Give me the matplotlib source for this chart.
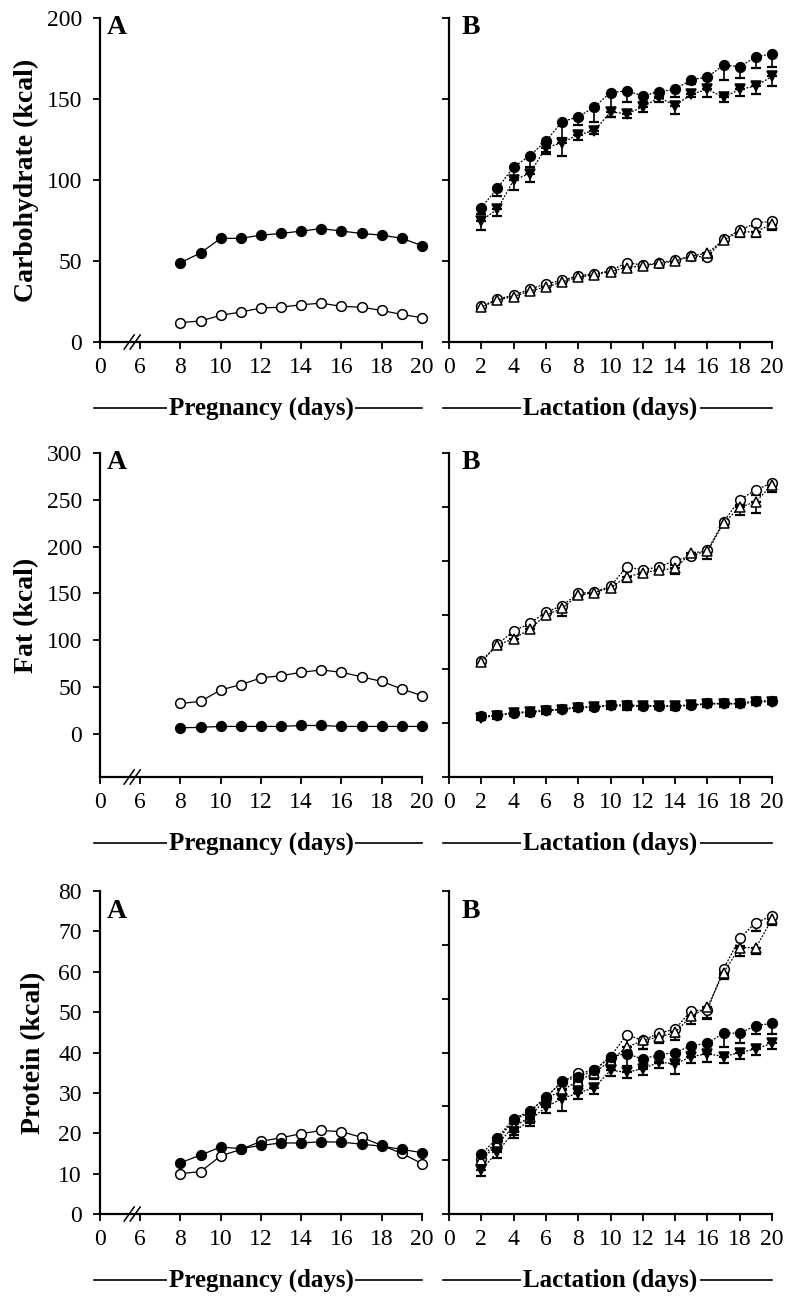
import numpy as np
import matplotlib.pyplot as plt

plt.rcParams['font.family'] = ['Liberation Serif', 'DejaVu Serif']

# 天数
preg_days = list(range(8, 21))
lact_days = list(range(2, 21))

# ---------- Carbohydrate ----------
carb_preg_filled = [49, 55, 64, 64, 66, 67, 68.5, 70, 68.5, 67, 66, 64, 59.5]
carb_preg_open = [12, 13, 16.5, 18.5, 21, 21.5, 23, 24, 22, 21.5, 19.5, 17, 15]

carb_lact_fc = [83, 95, 108, 115, 124, 136, 139, 145, 154, 155, 152, 154.5, 156, 162, 163.5, 171, 170, 176, 178]
carb_lact_fc_err = [4, 5, 6, 7, 7, 10, 5, 9, 15, 7, 4, 4, 5, 3, 5, 9, 7, 7, 8]
carb_lact_ft = [75, 82, 100, 104, 120, 123, 128, 130.5, 142, 141, 145, 151, 146, 153, 156, 151, 156, 158, 164]
carb_lact_ft_err = [6, 4, 6, 5, 4, 8, 3, 2, 3, 3, 3, 3, 5, 2, 5, 3, 4, 5, 6]
carb_lact_oc = [22, 26.5, 29, 32.5, 36, 38, 41, 42, 44, 49, 47.5, 48.7, 50.6, 53, 52.5, 63.5, 69, 73.5, 74.5]
carb_lact_oc_err = [1.5, 1.5, 2, 2, 2, 2, 2, 2, 2, 2, 2, 2, 2, 2, 2, 2, 2, 2, 2]
carb_lact_ot = [21.5, 26, 28, 31.5, 34, 37, 40, 41.5, 43.5, 46, 47, 48.5, 50, 53, 55, 63, 68, 68, 73]
carb_lact_ot_err = [1.5, 2, 2, 2, 2, 2, 2, 2, 2, 2, 2, 2, 2, 2, 3, 2, 3, 3, 4]

# ---------- Fat ----------
fat_preg_open = [32.5, 34.7, 47, 52.6, 59.8, 62.2, 65.8, 68.3, 65.8, 61, 56, 48, 40.8]
fat_preg_filled = [6.5, 7, 8, 8, 8, 8, 9, 9, 8, 8, 8, 8, 8]

fat_lact_oc = [78, 95.5, 110, 118, 130, 137, 150, 151.6, 157.7, 178.5, 175, 178.5, 185, 190, 196, 226.7, 250, 260.7, 268]
fat_lact_oc_err = [3, 3, 4, 3, 3, 3, 3, 3, 3, 5, 4, 4, 5, 3, 4, 4, 5, 6, 5]
fat_lact_ot = [77, 95, 101.6, 112, 127, 134, 148, 151, 156, 167.7, 172, 175, 176.7, 193.5, 195, 225, 242, 248, 266]
fat_lact_ot_err = [3, 4, 5, 4, 4, 8, 3, 3, 4, 5, 4, 4, 6, 3, 8, 4, 8, 12, 8]
fat_lact_fc = [18.6, 20.4, 22.8, 23.9, 25.3, 26.4, 29, 29, 31, 31, 30, 30, 30, 31, 32.5, 32.5, 32.5, 35.4, 35.4]
fat_lact_fc_err = [3, 3, 3, 3, 3, 3, 3, 3, 3, 3, 3, 3, 3, 3, 3, 3, 3, 3, 3]
fat_lact_ft = [17.5, 19.5, 22, 23, 24.5, 26, 28, 28.5, 30, 30, 29.5, 29.5, 29.5, 30.5, 32, 32, 32, 34, 34.5]
fat_lact_ft_err = [3, 4, 3, 4, 3, 3, 3, 3, 3, 4, 3, 3, 4, 3, 3, 3, 3, 3, 3]

# ---------- Protein ----------
prot_preg_filled = [12.7, 14.6, 16.6, 16.2, 17, 17.6, 17.6, 17.9, 17.8, 17.3, 16.8, 16, 15.2]
prot_preg_open = [10, 10.5, 14.4, 16, 18, 18.9, 19.9, 20.7, 20.4, 19, 17, 15, 12.5]

prot_lact_oc = [13.7, 18.3, 23.2, 25.3, 29, 32.7, 34.9, 35.6, 39, 44.4, 43, 44.8, 45.8, 50.4, 50.5, 60.7, 68.3, 72.2, 73.8]
prot_lact_oc_err = [1.5, 1.5, 2, 1.5, 1.5, 2, 1.5, 1.5, 1.5, 4, 2, 2, 2, 2, 2, 1.5, 2, 2, 1.5]
prot_lact_ot = [13.3, 17.4, 21.6, 24, 28.6, 30.6, 33, 35, 38, 41.3, 43, 43.8, 45, 49, 51.2, 59.8, 66, 66, 73]
prot_lact_ot_err = [1.5, 1.5, 2, 1.5, 1.5, 2, 1.5, 1.5, 1.5, 2, 2, 1.5, 2, 2, 3, 1.5, 2, 1.5, 1.5]
prot_lact_fc = [14.8, 18.9, 23.6, 25.5, 28.8, 32.9, 33.9, 35.6, 39, 39.7, 38.4, 39.5, 40, 41.7, 42.3, 44.8, 44.8, 46.7, 47.2]
prot_lact_fc_err = [1.5, 1.5, 2, 2, 1.5, 2, 1.5, 1.5, 2, 3, 2, 2, 2, 1.5, 2, 3.5, 2.5, 2, 2.6]
prot_lact_ft = [10.9, 15.4, 20.3, 23.2, 26.5, 28.6, 30, 31.3, 35.6, 35.1, 36, 37.6, 37.2, 39, 39.7, 39, 40, 40.9, 42.3]
prot_lact_ft_err = [1.5, 1.5, 1.5, 1.5, 1.5, 3, 1.5, 1.5, 1.5, 1.5, 1.5, 1.5, 2.5, 1.5, 2, 1.5, 1.5, 1.5, 1.5]

# 轴刻度
preg_tick_labels = ['0', '6', '8', '10', '12', '14', '16', '18', '20']
lact_ticks = list(range(0, 21, 2))

fig = plt.figure(figsize=(7.88, 12.98), dpi=100)

rows = [
    # (bottom, height, ylim, ticks A, ticks B, ylabel, label x)
    (0.7365, 0.2496, (0, 200), np.arange(0, 201, 50), np.arange(0, 201, 50), 'Carbohydrate (kcal)', -0.19),
    (0.4014, 0.2496, (-46, 300), np.arange(0, 301, 50), np.linspace(-46, 300, 7), 'Fat (kcal)', -0.19),
    (0.0647, 0.2488, (0, 80), np.arange(0, 81, 10), np.linspace(0, 80, 7), 'Protein (kcal)', -0.168),
]


def style_axes(ax):
    for s in ['top', 'right']:
        ax.spines[s].set_visible(False)
    for s in ['left', 'bottom']:
        ax.spines[s].set_linewidth(1.6)
    ax.tick_params(direction='out', length=5, width=1.3, labelsize=17, pad=6)
    ax.tick_params(axis='y', pad=8)


def under_label(ax, text):
    y = -0.205
    ax.plot([-0.02, 1.0], [y, y], transform=ax.transAxes, color='black', lw=1.2, clip_on=False)
    ax.text(0.5, y, text, transform=ax.transAxes, ha='center', va='center', fontsize=18,
            fontweight='bold', bbox=dict(facecolor='white', edgecolor='none', pad=1.5))


def series(ax, x, y, err, marker, filled, ls):
    face = 'black' if filled else 'white'
    if err is not None:
        ax.errorbar(x, y, yerr=[err, np.zeros(len(err))], fmt='none', ecolor='black',
                    elinewidth=1.2, capsize=3.5, capthick=1.6, clip_on=False, zorder=2)
    ax.plot(x, y, color='black', lw=0.9, ls=ls, marker=marker, markersize=7,
            markerfacecolor=face, markeredgecolor='black', markeredgewidth=1.1,
            clip_on=False, zorder=3)


preg_data = [
    (carb_preg_filled, carb_preg_open),
    (fat_preg_filled, fat_preg_open),
    (prot_preg_filled, prot_preg_open),
]
lact_data = [
    [(carb_lact_oc, carb_lact_oc_err, 'o', False), (carb_lact_ot, carb_lact_ot_err, '^', False),
     (carb_lact_ft, carb_lact_ft_err, 'v', True), (carb_lact_fc, carb_lact_fc_err, 'o', True)],
    [(fat_lact_oc, fat_lact_oc_err, 'o', False), (fat_lact_ot, fat_lact_ot_err, '^', False),
     (fat_lact_ft, fat_lact_ft_err, 'v', True), (fat_lact_fc, fat_lact_fc_err, 'o', True)],
    [(prot_lact_oc, prot_lact_oc_err, 'o', False), (prot_lact_ot, prot_lact_ot_err, '^', False),
     (prot_lact_ft, prot_lact_ft_err, 'v', True), (prot_lact_fc, prot_lact_fc_err, 'o', True)],
]

for i, (bottom, height, ylim, ticks_a, ticks_b, ylabel, lab_x) in enumerate(rows):
    # ---- A: 妊娠期 ----
    axA = fig.add_axes([0.1269, bottom, 0.4086, height])
    style_axes(axA)
    xp = np.array(preg_days) - 4  # 0 和 6 之间有断轴
    filled, opened = preg_data[i]
    series(axA, xp, opened, None, 'o', False, '-')
    series(axA, xp, filled, None, 'o', True, '-')
    axA.set_xlim(0, 16)
    axA.set_xticks(range(0, 17, 2))
    axA.set_xticklabels(preg_tick_labels)
    axA.set_ylim(*ylim)
    axA.set_yticks(ticks_a)
    axA.set_ylabel(ylabel, fontsize=20, fontweight='bold')
    axA.yaxis.set_label_coords(lab_x, 0.5)
    tr = axA.get_xaxis_transform()
    for x0 in [1.2, 1.5]:
        axA.plot([x0, x0 + 0.5], [-0.022, 0.022], transform=tr, color='black', lw=1.1, clip_on=False)
    ay = 0.975 if i == 2 else 1.01
    axA.text(0.022, ay, 'A', transform=axA.transAxes, ha='left', va='top', fontsize=20, fontweight='bold')
    under_label(axA, 'Pregnancy (days)')

    # ---- B: 哺乳期 ----
    axB = fig.add_axes([0.5698, bottom, 0.4099, height])
    style_axes(axB)
    for y, err, mk, fl in lact_data[i]:
        series(axB, lact_days, y, err, mk, fl, (0, (1.5, 1.2)))
    axB.set_xlim(0, 20)
    axB.set_xticks(lact_ticks)
    axB.set_ylim(*ylim)
    axB.set_yticks(ticks_b)
    axB.set_yticklabels([])
    axB.text(0.04, ay, 'B', transform=axB.transAxes, ha='left', va='top', fontsize=20, fontweight='bold')
    under_label(axB, 'Lactation (days)')

fig.savefig('out.png', dpi=100)
